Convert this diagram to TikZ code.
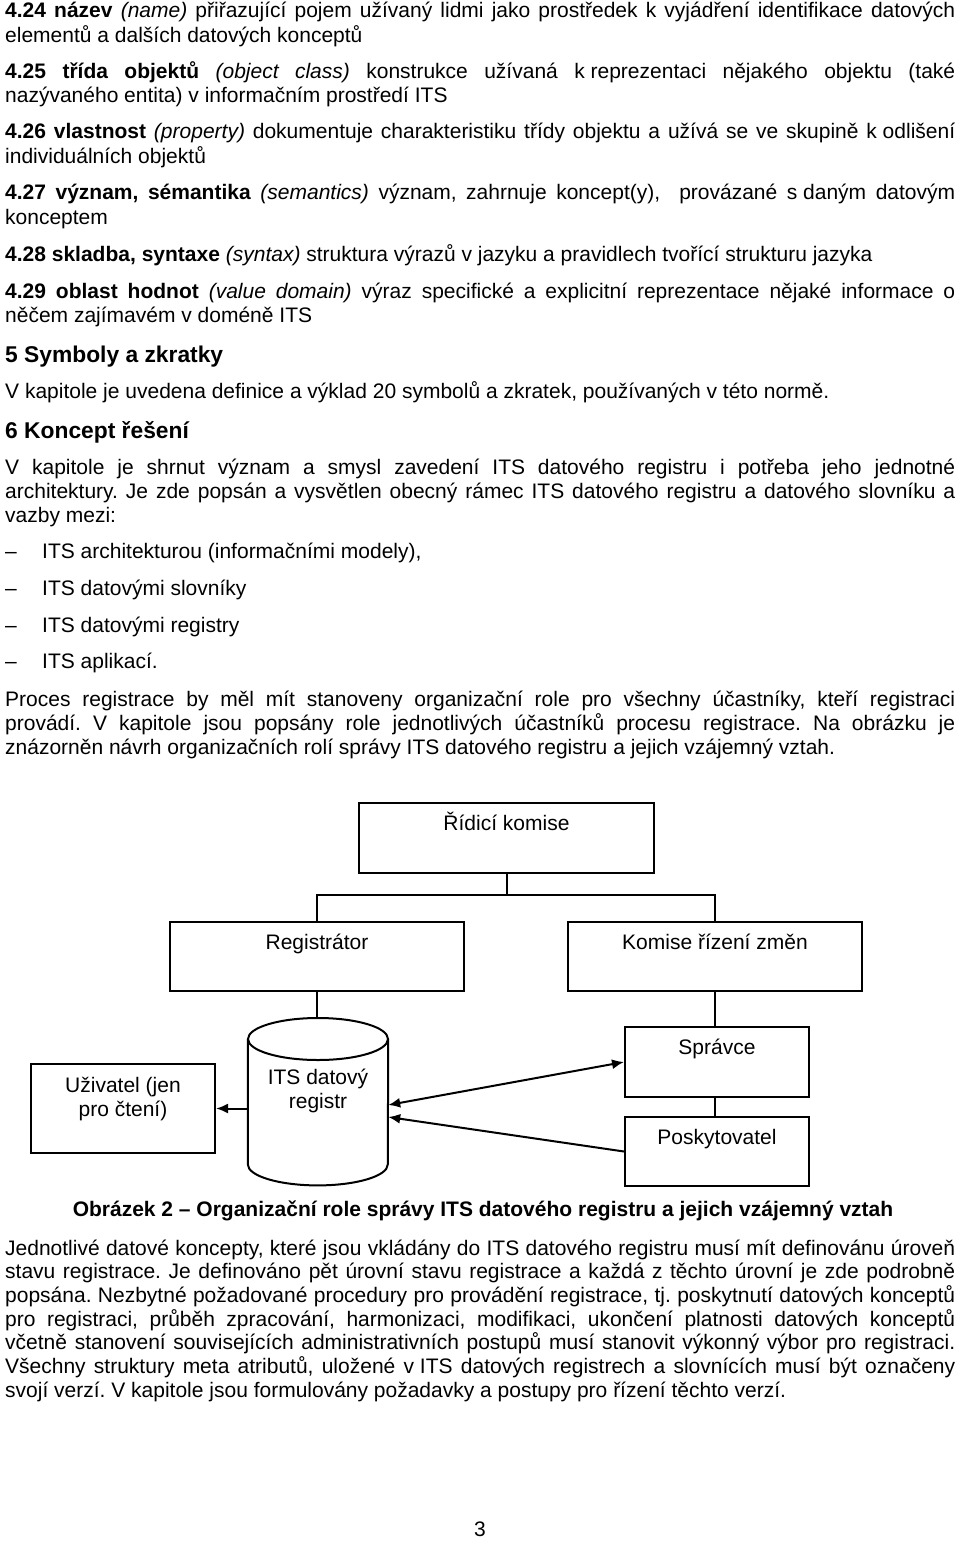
\documentclass[tikz,border=0pt]{standalone}
\usepackage{fontspec}
\setmainfont{Liberation Sans}
\usepackage{tikz}
\usetikzlibrary{arrows.meta}
\frenchspacing
\newcommand{\jline}[3]{ \node[anchor=base west, inner sep=0pt] (#1) at ( 5 , #2 ) {\makebox[950pt][s]{#3}};}
\newcommand{\pline}[4]{ \node[anchor=base west, inner sep=0pt] (#1) at ( #2 , #3 ) {#4};}
\newcommand{\dashitem}[3]{ \node[anchor=base west, inner sep=0pt] (#1d) at ( 5 , #2 ) {--}; \node[anchor=base west, inner sep=0pt] (#1) at ( 42 , #2 ) {#3};}
\newcommand{\heading}[3]{ \node[anchor=base west, inner sep=0pt, font=\fontsize{22.8}{26}\selectfont\bfseries] (#1) at ( 5 , #2 ) {#3};}

\begin{document}
\begin{tikzpicture}[x=1pt, y=-1pt, font=\fontsize{21}{24}\selectfont,
    role/.style={draw, line width=2pt, inner sep=0pt, anchor=north west, text height=27pt},
    arw/.style={-{Latex[length=12pt,width=10pt]}, line width=2pt},
    link/.style={line width=2pt}]
        \fill[white] (0,0) rectangle (960,1541);
        \useasboundingbox (0,0) rectangle (960,1541);
        % terms 4.24 - 4.29
        \jline{t24a}{18}{\textbf{4.24 název} \textit{(name)} přiřazující pojem užívaný lidmi jako prostředek k vyjádření identifikace datových}
        \pline{t24b}{5}{43}{elementů a dalších datových konceptů}
        \jline{t25a}{79}{\textbf{4.25 třída objektů} \textit{(object class)} konstrukce užívaná \mbox{k reprezentaci} nějakého objektu (také}
        \pline{t25b}{5}{103}{nazývaného entita) v informačním prostředí ITS}
        \jline{t26a}{139}{\textbf{4.26 vlastnost} \textit{(property)} dokumentuje charakteristiku třídy objektu a užívá se ve skupině \mbox{k odlišení}}
        \pline{t26b}{5}{164}{individuálních objektů}
        \jline{t27a}{200}{\textbf{4.27 význam, sémantika} \textit{(semantics)} význam, zahrnuje koncept(y), \ provázané \mbox{s daným} datovým}
        \pline{t27b}{5}{224}{konceptem}
        \pline{t28a}{5}{261}{\textbf{4.28 skladba, syntaxe} \textit{(syntax)} struktura výrazů v jazyku a pravidlech tvořící strukturu jazyka}
        \jline{t29a}{298}{\textbf{4.29 oblast hodnot} \textit{(value domain)} výraz specifické a explicitní reprezentace nějaké informace o}
        \pline{t29b}{5}{322}{něčem zajímavém v doméně ITS}
        % chapter 5
        \heading{h5}{362}{5 Symboly a zkratky}
        \pline{s5a}{5}{398}{V kapitole je uvedena definice a výklad 20 symbolů a zkratek, používaných v této normě.}
        % chapter 6
        \heading{h6}{438}{6 Koncept řešení}
        \jline{s6a}{474}{V kapitole je shrnut význam a smysl zavedení ITS datového registru i potřeba jeho jednotné}
        \jline{s6b}{498}{architektury. Je zde popsán a vysvětlen obecný rámec ITS datového registru a datového slovníku a}
        \pline{s6c}{5}{522}{vazby mezi:}
        \dashitem{b1}{558}{ITS architekturou (informačními modely),}
        \dashitem{b2}{595}{ITS datovými slovníky}
        \dashitem{b3}{632}{ITS datovými registry}
        \dashitem{b4}{668}{ITS aplikací.}
        \jline{s6d}{706}{Proces registrace by měl mít stanoveny organizační role pro všechny účastníky, kteří registraci}
        \jline{s6e}{730}{provádí. V kapitole jsou popsány role jednotlivých účastníků procesu registrace. Na obrázku je}
        \pline{s6f}{5}{754}{znázorněn návrh organizačních rolí správy ITS datového registru a jejich vzájemný vztah.}
        % roles
        \node[role, minimum width=295pt, text depth=43pt] (ridici) at (358,802) {Řídicí komise};
        \node[role, minimum width=294pt, text depth=42pt] (registrator) at (169,921) {Registrátor};
        \node[role, minimum width=294pt, text depth=42pt] (komise) at (567,921) {Komise řízení změn};
        \node[role, minimum width=184pt, text depth=43pt] (spravce) at (624,1026) {Správce};
        \node[role, minimum width=184pt, text depth=42pt] (poskyt) at (624,1116) {Poskytovatel};
        \node[role, minimum width=184pt, text height=28pt, text depth=61pt] (uzivatel) at (30,1063)
            {\begin{tabular}[t]{@{}c@{}}Uživatel (jen\\pro čtení)\end{tabular}};
        % data registry (cylinder)
        \node[inner sep=0pt, anchor=north, minimum width=140pt, text height=66pt, text depth=101pt] (dbreg) at (318,1018)
            {\begin{tabular}[t]{@{}c@{}}ITS datový\\registr\end{tabular}};
        \draw[link] ([yshift=-21pt]dbreg.north) ellipse [x radius=70pt, y radius=21pt];
        \draw[link] ([yshift=-21pt]dbreg.north west) -- ([yshift=21pt]dbreg.south west)
            arc [start angle=180, end angle=360, x radius=70pt, y radius=21pt] -- ([yshift=-21pt]dbreg.north east);
        \coordinate (dbin) at ([yshift=-87pt]dbreg.north);
        \coordinate (dbfrom) at ([yshift=-99pt]dbreg.north);
        % connectors
        \draw[link] (ridici.south) -- ++(0,21) -| (registrator.north);
        \draw[link] (ridici.south) -- ++(0,21) -| (komise.north);
        \draw[link] (registrator.south) -- (registrator.south |- dbreg.north);
        \draw[link] (komise.south) -- (komise.south |- spravce.north);
        \draw[link] (spravce.south -| komise.south) -- (poskyt.north -| komise.south);
        \draw[arw] (dbreg.west |- uzivatel.east) -- (uzivatel.east);
        \draw[arw, {Latex[length=12pt,width=10pt]}-{Latex[length=12pt,width=10pt]}] (dbin -| dbreg.east) -- (spravce.west);
        \draw[arw] (poskyt.west) -- (dbfrom -| dbreg.east);
        % caption
        \node[anchor=base, inner sep=0pt, font=\fontsize{21}{24}\selectfont\bfseries] (caption) at (483,1216)
            {Obrázek 2 -- Organizační role správy ITS datového registru a jejich vzájemný vztah};
        % last paragraph
        \jline{p1}{1255}{Jednotlivé datové koncepty, které jsou vkládány do ITS datového registru musí mít definovánu úroveň}
        \jline{p2}{1278.7}{stavu registrace. Je definováno pět úrovní stavu registrace a každá z těchto úrovní je zde podrobně}
        \jline{p3}{1302.3}{popsána. Nezbytné požadované procedury pro provádění registrace, tj. poskytnutí datových konceptů}
        \jline{p4}{1326}{pro registraci, průběh zpracování, harmonizaci, modifikaci, ukončení platnosti datových konceptů}
        \jline{p5}{1349.7}{včetně stanovení souvisejících administrativních postupů musí stanovit výkonný výbor pro registraci.}
        \jline{p6}{1373.3}{Všechny struktury meta atributů, uložené \mbox{v ITS} datových registrech a slovnících musí být označeny}
        \pline{p7}{5}{1397}{svojí verzí. V kapitole jsou formulovány požadavky a postupy pro řízení těchto verzí.}
        % page number
        \node[anchor=base, inner sep=0pt] (pagenum) at (480,1536) {3};
\end{tikzpicture}
\end{document}
